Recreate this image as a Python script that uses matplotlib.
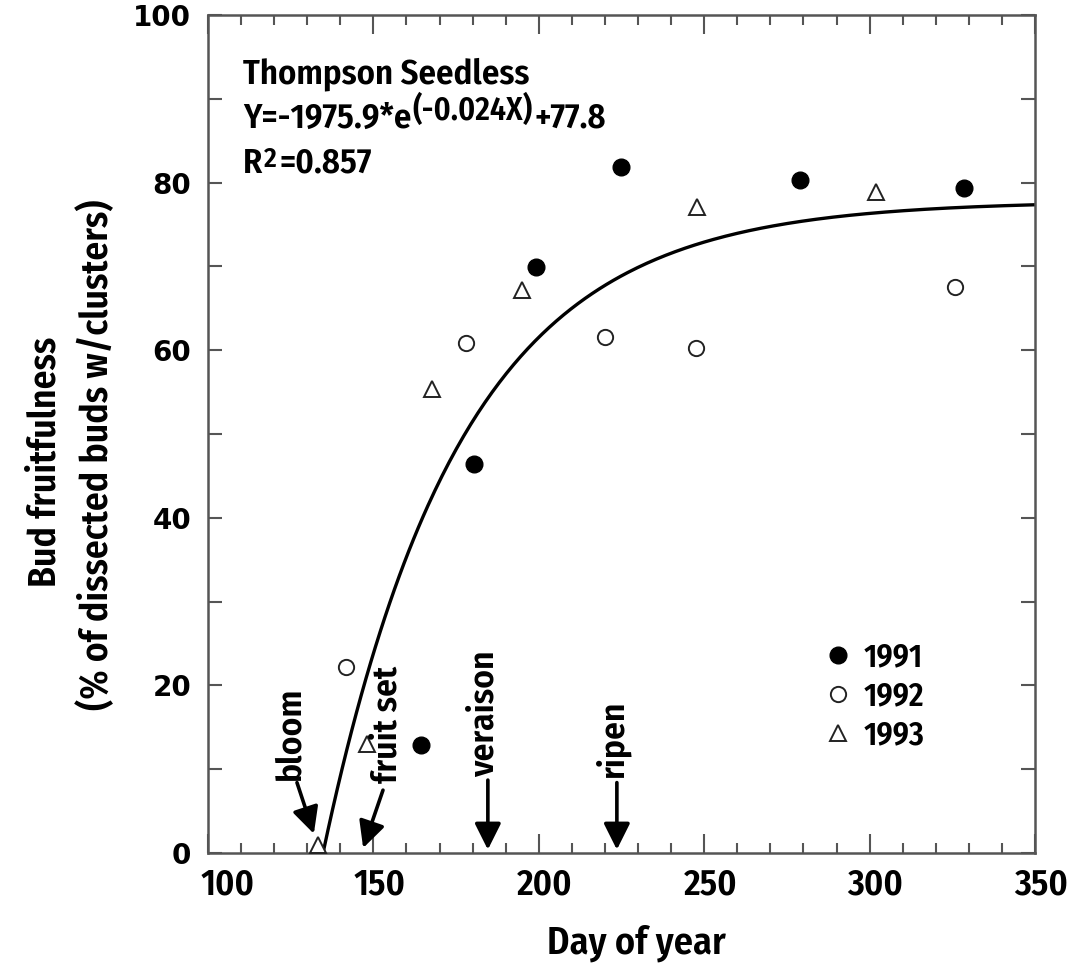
import numpy as np
import matplotlib
matplotlib.use('Agg')
import matplotlib.pyplot as plt
from matplotlib.transforms import ScaledTranslation

FONT = ['Fira Sans Condensed', 'DejaVu Sans']
plt.rcParams['font.family'] = FONT
plt.rcParams['font.weight'] = 'semibold'

day_1991 = [164.4, 180.4, 199.2, 224.8, 279.0, 328.5]
frt_1991 = [12.9, 46.4, 69.9, 81.9, 80.3, 79.4]
day_1992 = [141.7, 178.0, 220.0, 247.5, 325.8]
frt_1992 = [22.2, 60.9, 61.6, 60.3, 67.5]
day_1993 = [133.3, 148.1, 167.7, 194.9, 247.8, 301.9]
frt_1993 = [1.0, 13.0, 55.4, 67.2, 77.1, 78.9]

# fitted curve  Y = a*exp(b*X) + c  (as printed on the chart)
fit_a, fit_b, fit_c = -1975.9, -0.024, 77.8

# phenology stages: label, label x, label bottom y, arrow tail (x, y), arrow head (x, y)
stages = ['bloom', 'fruit set', 'veraison', 'ripen']
stage_lx = [124.8, 154.1, 183.4, 222.1]
stage_ly = [8.7, 8.4, 9.1, 9.1]
stage_tail = [(126.9, 8.4), (152.9, 7.5), (184.6, 8.7), (223.6, 8.4)]
stage_head = [(132.0, 2.3), (146.9, 0.6), (184.6, 0.4), (223.6, 0.4)]

fig = plt.figure(figsize=(10.71, 9.67), dpi=100)
ax = fig.add_axes([208 / 1071, 1 - 853 / 967, 827 / 1071, 838 / 967])

xs = np.linspace(134.8, 350, 300)
ax.plot(xs, fit_a * np.exp(fit_b * xs) + fit_c, color='black', lw=2.4, zorder=2)

ax.plot(day_1991, frt_1991, 'o', ms=12, mfc='black', mec='black', ls='none', label='1991', zorder=3)
ax.plot(day_1992, frt_1992, 'o', ms=11, mfc='white', mec='#222222', mew=1.4, ls='none', label='1992', zorder=3)
ax.plot(day_1993, frt_1993, '^', ms=12, mfc='white', mec='#222222', mew=1.4, ls='none', label='1993', zorder=3)

for name, lx, ly, tail, head in zip(stages, stage_lx, stage_ly, stage_tail, stage_head):
    ax.text(lx, ly, name, rotation=90, ha='center', va='bottom', fontsize=25.5)
    ax.annotate('', xy=head, xytext=tail,
                arrowprops=dict(arrowstyle='-|>', lw=2.6, color='black', mutation_scale=40,
                                shrinkA=0, shrinkB=0))

# equation block, top left
t_left = (243 - 208) / 827
eq_size = 25
ax.text(t_left, 1 - (83 - 15) / 838, 'Thompson Seedless', fontsize=eq_size,
        transform=ax.transAxes, va='baseline')
e1 = ax.text(t_left, 1 - (128 - 15) / 838, 'Y=-1975.9*e', fontsize=eq_size,
             transform=ax.transAxes, va='baseline')
e2 = ax.annotate('(-0.024X)', xy=(1, 0), xycoords=e1, xytext=(1, 6), textcoords='offset points',
                 fontsize=eq_size - 2, va='bottom')
ax.annotate('+77.8', xy=(1, 0), xycoords=e2, xytext=(1, -6), textcoords='offset points',
            fontsize=eq_size, va='bottom')
r1 = ax.text(t_left, 1 - (173 - 15) / 838, 'R', fontsize=eq_size, transform=ax.transAxes, va='baseline')
ax.annotate('2', xy=(1, 0), xycoords=r1, xytext=(1, 6), textcoords='offset points',
            fontsize=eq_size - 5, va='bottom')
ax.annotate('=0.857', xy=(1, 0), xycoords=r1, xytext=(12, 0), textcoords='offset points',
            fontsize=eq_size, va='bottom')

ax.legend(loc='upper left', bbox_to_anchor=(0.743, 0.252), frameon=False, fontsize=23,
          handlelength=1.0, handletextpad=0.3, labelspacing=0.22, borderpad=0, borderaxespad=0)

ax.set_xlim(100, 350)
ax.set_ylim(0, 100)
ax.set_xticks(np.arange(100, 351, 50))
ax.set_xticks(np.arange(100, 351, 10), minor=True)
ax.set_yticks(np.arange(0, 101, 20))
ax.set_yticks(np.arange(0, 101, 10), minor=True)

tick_col = '#555555'
ax.tick_params(axis='x', which='major', direction='in', length=14, width=1.5, color=tick_col,
               top=True, bottom=True, labelsize=26, pad=10)
ax.tick_params(axis='x', which='minor', direction='in', length=7.5, width=1.5, color=tick_col,
               top=True, bottom=True)
ax.tick_params(axis='y', which='both', direction='in', length=10, width=1.5, color=tick_col,
               left=True, right=True, pad=12)
for lab in ax.get_yticklabels():
    lab.set_family('DejaVu Sans')
    lab.set_fontweight('bold')
    lab.set_fontsize(20)
# the x labels sit a little right of their ticks, the first one more so
for i, lab in enumerate(ax.get_xticklabels()):
    dx = 20 if i == 0 else 6
    lab.set_transform(lab.get_transform() + ScaledTranslation(dx / 100, 0, fig.dpi_scale_trans))
for sp in ax.spines.values():
    sp.set_linewidth(1.8)
    sp.set_color(tick_col)

fig.text(636 / 1071, 1 - 943 / 967, 'Day of year', ha='center', va='center', fontsize=27.5)
fig.text(45 / 1071, 1 - 462 / 967, 'Bud fruitfulness', rotation=90, ha='center', va='center', fontsize=27)
fig.text(97 / 1071, 1 - 455 / 967, '(% of dissected buds w/clusters)', rotation=90, ha='center', va='center',
         fontsize=27)

fig.savefig('out.png', dpi=100)
